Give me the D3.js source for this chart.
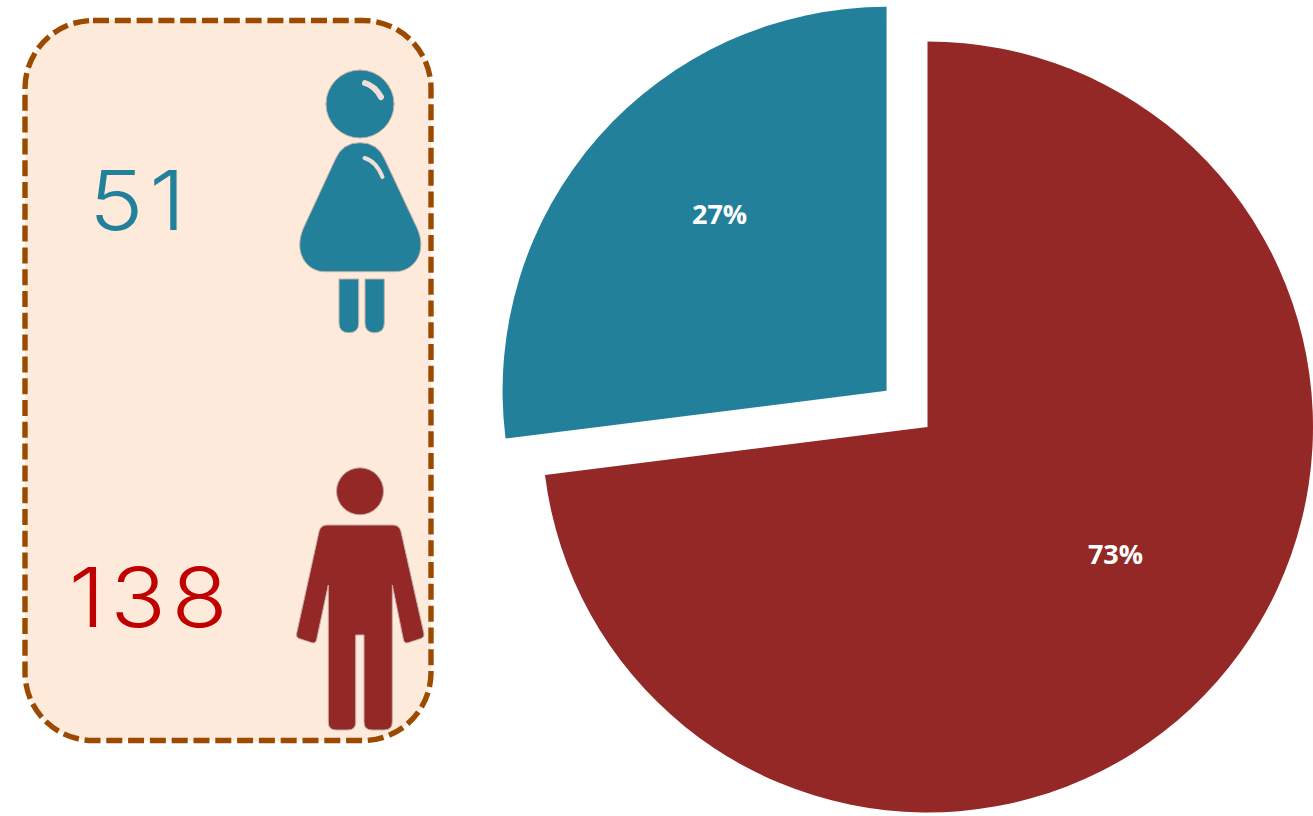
<!DOCTYPE html>
<html>
<head>
<meta charset="utf-8">
<script src="https://cdn.jsdelivr.net/npm/d3@7"></script>
<style>
  html, body { margin: 0; padding: 0; background: #fff; overflow: hidden; }
  svg { display: block; }
</style>
</head>
<body>
<div class="js-chart"></div>
<script>
const genders = ["Male", "Female"];
const counts = [138, 51];
const percentLabels = ["73%", "27%"];

const width = 1313
    , height = 816
    , explode = 54.6
    ;

const pieCenter = [927.5, 427];
const sliceRadius = {Male: 385.5, Female: 384};
const colors = d3.scaleOrdinal().domain(genders).range(["#932826", "#23809b"]);
const numberColors = d3.scaleOrdinal().domain(genders).range(["#c00000", "#23809b"]);
const iconStroke = "#c4b0a8";

const svg = d3.select(".js-chart")
  .append("svg")
  .attr("width", width)
  .attr("height", height);

// panel behind the counts
svg.append("rect")
  .attr("x", 25)
  .attr("y", 20.5)
  .attr("width", 406)
  .attr("height", 720)
  .attr("rx", 68)
  .attr("ry", 68)
  .attr("fill", "#fdeada")
  .attr("stroke", "#9c4a00")
  .attr("stroke-width", 5.4)
  .attr("stroke-dasharray", "16 5.8");

// pie, teal slice is pulled out along its mid angle
const pie = d3.pie().sort(null).value(d => d.count);
const arc = d3.arc().innerRadius(0).outerRadius(d => sliceRadius[d.data.gender]);
const rows = genders.map((g, i) => ({gender: g, count: counts[i], label: percentLabels[i]}));
const slices = pie(rows);

function sliceOffset(d) {
  if (d.data.gender != "Female") return [0, 0];
  const mid = (d.startAngle + d.endAngle) / 2;
  return [Math.sin(mid) * explode, -Math.cos(mid) * explode];
}

const sliceG = svg.append("g")
  .attr("transform", `translate(${pieCenter})`)
  .selectAll("g")
  .data(slices)
  .join("g")
  .attr("transform", d => `translate(${sliceOffset(d)})`);

sliceG.append("path")
  .attr("d", arc)
  .attr("fill", d => colors(d.data.gender));

// label spots, relative to each slice's centre
const labelAt = {Male: [188, 128], Female: [-167, -176]};

sliceG.append("text")
  .attr("x", d => labelAt[d.data.gender][0])
  .attr("y", d => labelAt[d.data.gender][1])
  .attr("dy", "0.35em")
  .attr("text-anchor", "middle")
  .attr("fill", "#fff")
  .style("font", "700 27px 'Open Sans'")
  .text(d => d.data.label);

// big counts, stretched a bit since the original face is wider than Inter
const numberAt = {Male: [151, 627], Female: [140, 230]};

svg.append("g")
  .selectAll("text")
  .data(rows)
  .join("text")
  .attr("transform", d => `translate(${numberAt[d.gender]}) scale(1.12,1)`)
  .attr("text-anchor", "middle")
  .attr("fill", d => numberColors(d.gender))
  .style("font", "300 82px Inter")
  .style("letter-spacing", "5px")
  .text(d => d.count);

// woman icon
const woman = svg.append("g")
  .attr("fill", colors("Female"))
  .attr("stroke", iconStroke)
  .attr("stroke-width", 1);

woman.append("circle").attr("cx", 360).attr("cy", 104).attr("r", 34);
woman.append("path")
  .attr("d", "M335,160 Q342,142.7 360,142.7 Q378,142.7 385,160 L417,228 C428,252 414,271.7 395,271.7 L325,271.7 C306,271.7 293,252 303.5,228 Z");
woman.append("path")
  .attr("d", "M339,279 H358.7 V323 Q358.7,332.7 349,332.7 Q339,332.7 339,323 Z");
woman.append("path")
  .attr("d", "M365,279 H384.3 V323 Q384.3,332.7 374.6,332.7 Q365,332.7 365,323 Z");

const shine = svg.append("g")
  .attr("fill", "none")
  .attr("stroke", "#f0dfd6")
  .attr("stroke-linecap", "round");

shine.append("path")
  .attr("d", "M365,83 Q375,86 381,97")
  .attr("stroke-width", 6);
shine.append("path")
  .attr("d", "M364.5,158 Q376,161 382.5,177")
  .attr("stroke-width", 4);

// man icon
const man = svg.append("g")
  .attr("fill", colors("Male"))
  .attr("stroke", iconStroke)
  .attr("stroke-width", 1);

man.append("circle").attr("cx", 360).attr("cy", 491.3).attr("r", 23.5);
man.append("path")
  .attr("d", "M327,525 H393 Q399.5,525 401,531.7 L424,634 Q424.5,637.5 421,638.5 L408,642.8 Q404.5,643.5 403.5,640 L392.3,585 V722 Q392.3,730 384,730 H372 Q364,730 364,722 V635 H355.7 V722 Q355.7,730 348,730 H336 Q328.3,730 328.3,722 V585 L316.5,640 Q315.5,643.5 312,642.8 L299,638.5 Q296,637.5 296.5,634 L319,531.7 Q320.5,525 327,525 Z");
</script>
</body>
</html>
